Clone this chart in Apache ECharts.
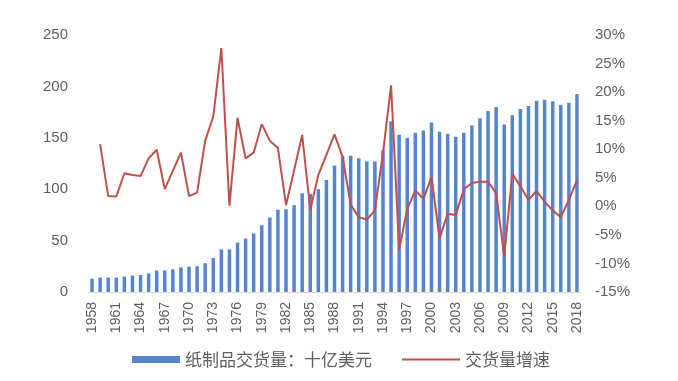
<!DOCTYPE html>
<html>
<head>
<meta charset="utf-8">
<script src="https://cdn.jsdelivr.net/npm/echarts@6/dist/echarts.min.js"></script>
<style>html,body{margin:0;padding:0;background:#fff;}#c{width:678px;height:381px;}</style>
</head>
<body>
<div id="c"></div>
<script>
var years = ['1958','1959','1960','1961','1962','1963','1964','1965','1966','1967','1968','1969','1970','1971','1972','1973','1974','1975','1976','1977','1978','1979','1980','1981','1982','1983','1984','1985','1986','1987','1988','1989','1990','1991','1992','1993','1994','1995','1996','1997','1998','1999','2000','2001','2002','2003','2004','2005','2006','2007','2008','2009','2010','2011','2012','2013','2014','2015','2016','2017','2018'];
var shipments = [13,14,14,14,15,16,16.5,18,21,21,22,24,24.6,25,28,33,41.5,41.5,48,52,57,65,72.5,80,80.5,84.5,96,95.5,100,109,123,132,132.5,130,127,127,138,166,153,150,155,157,165,156,154,151,155,162,169,176,180,163,172,178,181,186,187,185.5,182,184,192.5];
var growth = [null,10.9,1.8,1.7,5.8,5.5,5.3,8.4,9.9,3.0,6.2,9.4,1.8,2.4,11.5,15.7,27.7,0.1,15.5,8.4,9.4,14.4,11.5,10.2,0.2,6.3,12.5,-0.6,5.5,9.0,12.6,8.7,0.3,-1.9,-2.3,-0.7,9.3,21.2,-7.6,-0.5,2.8,1.3,5.1,-5.6,-1.3,-1.5,3.0,4.1,4.3,4.3,2.3,-8.8,5.7,3.5,1.1,2.7,0.8,-0.7,-1.9,1.1,4.6];
var leftTicks = {min:0, max:250, interval:50};
var rightTicks = {min:-15, max:30, interval:5};
var barName = '纸制品交货量：十亿美元';
var lineName = '交货量增速';

var txt = '#606060';
var fontNum = '"Liberation Sans", Arial, sans-serif';
var fontCJK = '"Noto Sans CJK SC", "Liberation Sans", sans-serif';
var chart = echarts.init(document.getElementById('c'), null, {renderer:'canvas'});
chart.setOption({
  animation: false,
  backgroundColor: '#fff',
  grid: {left: 88, right: 97, top: 35, bottom: 89, containLabel: false},
  legend: [
    {data: [{name: barName, icon: 'rect'}], left: 127, top: 346, itemWidth: 48, itemHeight: 7,
     textStyle: {color: txt, fontSize: 17, fontFamily: fontCJK}},
    {data: [{name: lineName, icon: 'rect'}], left: 397, top: 346, itemWidth: 58, itemHeight: 2,
     textStyle: {color: txt, fontSize: 17, fontFamily: fontCJK}}
  ],
  xAxis: {
    type: 'category', data: years, boundaryGap: true,
    axisLine: {lineStyle: {color: '#d9d9d9', width: 1}},
    axisTick: {show: false},
    axisLabel: {interval: 2, rotate: 90, margin: 10, color: txt, fontSize: 14, fontFamily: fontNum}
  },
  yAxis: [
    {type: 'value', min: leftTicks.min, max: leftTicks.max, interval: leftTicks.interval,
     axisLine: {show: false}, axisTick: {show: false}, splitLine: {show: false},
     axisLabel: {margin: 20, color: txt, fontSize: 15, fontFamily: fontNum}},
    {type: 'value', min: rightTicks.min, max: rightTicks.max, interval: rightTicks.interval, position: 'right',
     axisLine: {show: false}, axisTick: {show: false}, splitLine: {show: false},
     axisLabel: {margin: 14, color: txt, fontSize: 15, fontFamily: fontNum, formatter: '{value}%'}}
  ],
  series: [
    {name: barName, type: 'bar', data: shipments, yAxisIndex: 0, barWidth: 3.5,
     itemStyle: {color: '#5684cf'}},
    {name: lineName, type: 'line', data: growth, yAxisIndex: 1, symbol: 'none', connectNulls: false,
     lineStyle: {color: '#c0504d', width: 2}, itemStyle: {color: '#c0504d'}}
  ]
});
</script>
</body>
</html>
